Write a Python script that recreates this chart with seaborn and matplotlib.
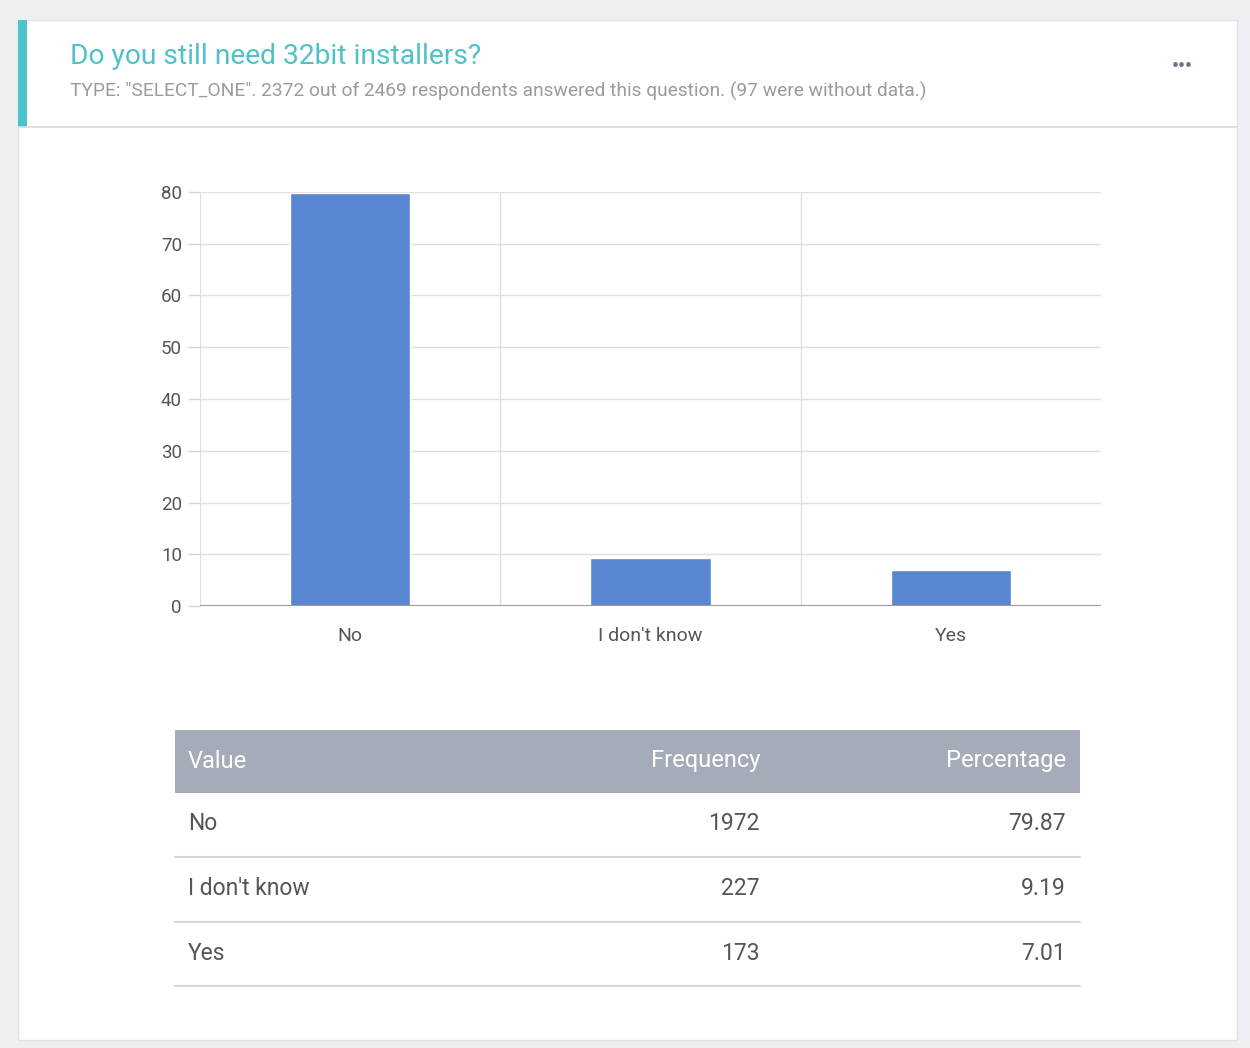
"""
Survey question card: bar chart of answers plus a frequency table below it.
"""

import matplotlib.pyplot as plt
import seaborn as sns
import pandas as pd
from matplotlib.patches import Rectangle

# Data
categories = ["No", "I don't know", "Yes"]
frequency = [1972, 227, 173]
percentage = [79.87, 9.19, 7.01]
y_ticks = [0, 10, 20, 30, 40, 50, 60, 70, 80]

title = "Do you still need 32bit installers?"
subtitle = ('TYPE: "SELECT_ONE". 2372 out of 2469 respondents answered this question. '
            '(97 were without data.)')
table_header = ["Value", "Frequency", "Percentage"]

W, H = 1250, 1048

sns.set_style("white")
plt.rcParams['font.family'] = ['Roboto', 'DejaVu Sans']

fig = plt.figure(figsize=(W / 100, H / 100), dpi=100)
fig.patch.set_facecolor('#eeeff3')

# Background layer in pixel coordinates
bg = fig.add_axes([0, 0, 1, 1], zorder=0)
bg.set_xlim(0, W)
bg.set_ylim(H, 0)
bg.axis('off')

# card
bg.add_patch(Rectangle((18, 20), 1219, 1020, facecolor='white', edgecolor='#e2e2e6', lw=1))
bg.add_patch(Rectangle((18, 20), 9, 107, facecolor='#4cc3c8', edgecolor='none'))
bg.plot([18, 1237], [127, 127], color='#d9d9d9', lw=1.2)

bg.text(70, 56, title, color='#4fc1c9', fontsize=20.3, va='center', ha='left')
bg.text(70, 91, subtitle, color='#9b9b9b', fontsize=13.8, va='center', ha='left')
bg.text(1182, 67, '•••', color='#6b7488', fontsize=14, fontweight='bold',
        va='center', ha='center')

# Table
tx0, tx1 = 175, 1080
bg.add_patch(Rectangle((tx0, 730), tx1 - tx0, 63, facecolor='#a5abb8', edgecolor='none'))
head_y = 761
bg.text(188, head_y, table_header[0], color='white', fontsize=17, va='center', ha='left')
bg.text(760, head_y, table_header[1], color='white', fontsize=17, va='center', ha='right')
bg.text(1066, head_y, table_header[2], color='white', fontsize=17, va='center', ha='right')

row_h = 64.5
for i, (cat, freq, pct) in enumerate(zip(categories, frequency, percentage)):
    cy = 824 + i * row_h
    bg.text(188, cy, cat, color='#555555', fontsize=16.5, va='center', ha='left')
    bg.text(760, cy, f"{freq}", color='#555555', fontsize=16.5, va='center', ha='right')
    bg.text(1066, cy, f"{pct:.2f}", color='#555555', fontsize=16.5, va='center', ha='right')
    ly = 857 + i * row_h
    bg.plot([tx0, tx1], [ly, ly], color='#d6d6d6', lw=1.5)

# Bar chart
ax = fig.add_axes([200 / W, (H - 606) / H, 901 / W, 414 / H], zorder=2)
ax.patch.set_alpha(0)
df = pd.DataFrame({'answer': categories, 'pct': percentage})
sns.barplot(data=df, x='answer', y='pct', color='#5886d3', saturation=1,
            width=0.4, ax=ax, zorder=3)

ax.set_xlim(-0.5, 2.5)
ax.set_ylim(0, 80)
ax.set_yticks(y_ticks)
ax.set_xlabel('')
ax.set_ylabel('')
for s in ax.spines.values():
    s.set_visible(False)

ax.grid(axis='y', color='#e0e0e0', lw=1, zorder=0)
ax.axhline(0, color='#9a9a9a', lw=1.5, zorder=4)
for b in [-0.5, 0.5, 1.5]:
    ax.axvline(b, color='#e0e0e0', lw=1, zorder=0)

ax.set_xticks([-0.5, 0.5, 1.5], minor=True)
ax.tick_params(axis='x', which='minor', length=13, color='#e0e0e0', width=1, direction='out')
ax.tick_params(axis='x', which='major', length=0, pad=15, labelsize=14, labelcolor='#555555')
ax.tick_params(axis='y', length=9, color='#d5d5d5', width=1, pad=4,
               labelsize=13.5, labelcolor='#555555', left=True)

fig.savefig('out.png', dpi=100)
